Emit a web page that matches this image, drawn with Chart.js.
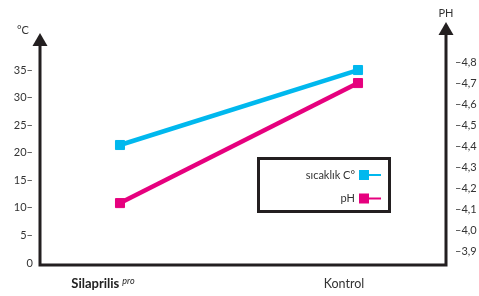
<!DOCTYPE html>
<html>
<head>
<meta charset="utf-8">
<script src="https://cdn.jsdelivr.net/npm/chart.js@4/dist/chart.umd.min.js"></script>
<style>
html,body{margin:0;padding:0;background:#fff;}
#wrap{width:479px;height:296px;position:relative;}
</style>
</head>
<body>
<div id="wrap"><canvas id="c" width="479" height="296"></canvas></div>
<script>
// ---- data ----
const categories = ['Silaprilis', 'Kontrol'];
const categorySup = ['pro', ''];
const tempValues = [21.4, 35.0];
const phValues = [4.13, 4.70];
const leftTicks = [0, 5, 10, 15, 20, 25, 30, 35];
const rightTicks = [3.9, 4.0, 4.1, 4.2, 4.3, 4.4, 4.5, 4.6, 4.7, 4.8];
const seriesLabels = ['sıcaklık C°', 'pH'];
const leftTitle = '°C';
const rightTitle = 'PH';

const CYAN = '#00B8EE';
const MAGENTA = '#E6007E';
const AXIS = '#231F20';
const FONT = 'Lato, "Open Sans", sans-serif';

const decorations = {
  id: 'decorations',
  afterDraw(chart) {
    const ctx = chart.ctx;
    const a = chart.chartArea;
    const xs = chart.scales.x;
    ctx.save();
    // axes
    ctx.strokeStyle = AXIS;
    ctx.fillStyle = AXIS;
    ctx.lineWidth = 3;
    ctx.lineJoin = 'miter';
    ctx.beginPath();
    ctx.moveTo(a.left, a.top + 22);
    ctx.lineTo(a.left, a.bottom);
    ctx.lineTo(a.right, a.bottom);
    ctx.lineTo(a.right, a.top + 11);
    ctx.stroke();
    // arrows
    function arrow(x, tipY) {
      ctx.beginPath();
      ctx.moveTo(x, tipY);
      ctx.lineTo(x - 7.5, tipY + 13);
      ctx.lineTo(x + 7.5, tipY + 13);
      ctx.closePath();
      ctx.fill();
    }
    arrow(a.left, a.top + 11);
    arrow(a.right, a.top);
    // axis titles
    ctx.fillStyle = '#333';
    ctx.font = '11px ' + FONT;
    ctx.textAlign = 'center';
    ctx.textBaseline = 'middle';
    ctx.fillText(leftTitle, a.left - 17, a.top + 8);
    ctx.fillText(rightTitle, a.right, a.top - 9);
    // category labels
    ctx.textBaseline = 'alphabetic';
    categories.forEach((c, i) => {
      const px = xs.getPixelForValue(i);
      const base = a.bottom + 23;
      if (categorySup[i]) {
        ctx.font = 'bold 13px ' + FONT;
        const w1 = ctx.measureText(c).width;
        ctx.font = 'italic 9px ' + FONT;
        const w2 = ctx.measureText(categorySup[i]).width;
        const start = px - 17 - (w1 + 3 + w2) / 2;
        ctx.textAlign = 'left';
        ctx.fillStyle = '#222';
        ctx.font = 'bold 13px ' + FONT;
        ctx.fillText(c, start, base);
        ctx.font = 'italic 9px ' + FONT;
        ctx.fillText(categorySup[i], start + w1 + 3, base - 4);
      } else {
        ctx.font = '12.5px ' + FONT;
        ctx.textAlign = 'center';
        ctx.fillStyle = '#333';
        ctx.fillText(c, px - 14, base);
      }
    });
    // legend box
    ctx.strokeStyle = AXIS;
    ctx.lineWidth = 3;
    ctx.strokeRect(258.5, 158.5, 131, 53);
    const colors = [CYAN, MAGENTA];
    const rows = [175, 198.5];
    ctx.font = '11px ' + FONT;
    ctx.textAlign = 'right';
    ctx.textBaseline = 'middle';
    seriesLabels.forEach((lab, i) => {
      const y = rows[i];
      ctx.fillStyle = '#333';
      ctx.fillText(lab, 355, y);
      ctx.fillStyle = colors[i];
      ctx.fillRect(359, y - 5, 10, 10);
      ctx.strokeStyle = colors[i];
      ctx.lineWidth = 2;
      ctx.beginPath();
      ctx.moveTo(368, y);
      ctx.lineTo(381, y);
      ctx.stroke();
    });
    ctx.restore();
  }
};

new Chart(document.getElementById('c'), {
  type: 'line',
  data: {
    datasets: [
      {
        label: seriesLabels[0],
        data: tempValues.map((v, i) => ({ x: i, y: v })),
        yAxisID: 'y',
        borderColor: CYAN,
        backgroundColor: CYAN,
        borderWidth: 4.5,
        pointStyle: 'rect',
        pointRadius: 6.4,
        pointBorderWidth: 1,
        pointBorderColor: CYAN,
        pointBackgroundColor: CYAN,
        tension: 0
      },
      {
        label: seriesLabels[1],
        data: phValues.map((v, i) => ({ x: i, y: v })),
        yAxisID: 'y1',
        borderColor: MAGENTA,
        backgroundColor: MAGENTA,
        borderWidth: 4.5,
        pointStyle: 'rect',
        pointRadius: 6.4,
        pointBorderWidth: 1,
        pointBorderColor: MAGENTA,
        pointBackgroundColor: MAGENTA,
        tension: 0
      }
    ]
  },
  options: {
    responsive: false,
    animation: false,
    devicePixelRatio: 1,
    layout: { padding: { top: 22, bottom: 31, left: 0, right: 0 } },
    plugins: { legend: { display: false }, tooltip: { enabled: false } },
    scales: {
      x: {
        type: 'linear',
        display: false,
        min: -0.3361,
        max: 1.3697
      },
      y: {
        type: 'linear',
        position: 'left',
        min: -0.363,
        max: 43.71,
        grid: { display: false, drawTicks: false },
        border: { display: false },
        afterFit: (s) => { s.width = 40; },
        afterBuildTicks: (s) => { s.ticks = leftTicks.map(v => ({ value: v })); },
        ticks: {
          padding: 7,
          color: '#333',
          font: { family: FONT, size: 11 },
          callback: (v) => v === 0 ? '0' : v + '–'
        }
      },
      y1: {
        type: 'linear',
        position: 'right',
        min: 3.836,
        max: 4.990,
        grid: { display: false, drawTicks: false },
        border: { display: false },
        afterFit: (s) => { s.width = 33; },
        afterBuildTicks: (s) => { s.ticks = rightTicks.map(v => ({ value: v })); },
        ticks: {
          padding: 9,
          color: '#333',
          font: { family: FONT, size: 11 },
          callback: (v) => '–' + v.toFixed(1).replace('.', ',')
        }
      }
    }
  },
  plugins: [decorations]
});
</script>
</body>
</html>
